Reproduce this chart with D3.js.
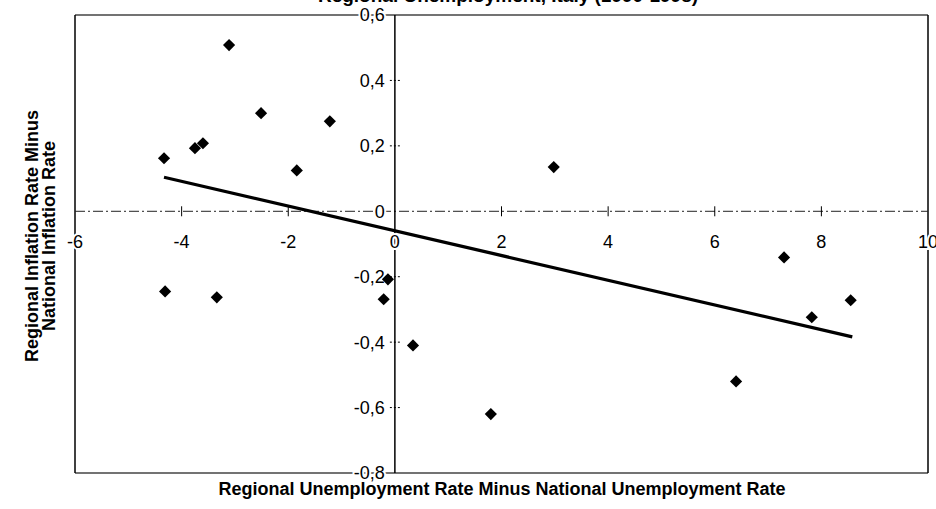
<!DOCTYPE html>
<html>
<head>
<meta charset="utf-8">
<script src="https://cdn.jsdelivr.net/npm/d3@7/dist/d3.min.js"></script>
<style>
  html, body { margin: 0; padding: 0; background: #fff; }
  svg { display: block; }
  text { font-family: "Liberation Sans", Arial, Helvetica, sans-serif; fill: #000; }
</style>
</head>
<body>
<svg id="chart" width="936" height="509"></svg>
<script>
// ---- data ----
const unemploymentDiff = [-4.33, -3.75, -3.60, -3.11, -2.51, -1.22, -1.84, -4.31, -3.34, -0.13, -0.21, 0.34, 1.80, 2.98, 6.40, 7.30, 7.82, 8.55];
const inflationDiff    = [ 0.162, 0.193, 0.208, 0.508, 0.300, 0.275, 0.125, -0.245, -0.263, -0.208, -0.269, -0.410, -0.620, 0.135, -0.520, -0.141, -0.324, -0.272];
const trendX = [-4.33, 8.58];
const trendY = [0.104, -0.384];
const xTicks = [-6, -4, -2, 0, 2, 4, 6, 8, 10];
const xTickLabels = ["-6", "-4", "-2", "0", "2", "4", "6", "8", "10"];
const yTicks = [0.6, 0.4, 0.2, 0, -0.2, -0.4, -0.6, -0.8];
const yTickLabels = ["0,6", "0,4", "0,2", "0", "-0,2", "-0,4", "-0,6", "-0,8"];
const titleText = "Regional Unemployment, Italy (1990-1998)";
const xTitle = "Regional Unemployment Rate Minus National Unemployment Rate";
const yTitleLines = ["Regional Inflation Rate Minus", "National Inflation Rate"];

const svg = d3.select("#chart");
const x = d3.scaleLinear().domain([-6, 10]).range([75, 928]);
const y = d3.scaleLinear().domain([-0.8, 0.6]).range([473, 15]);

const x0 = x(0), y0 = y(0);

// frame
svg.append("line").attr("x1", x(-6)).attr("x2", x(10)).attr("y1", y(0.6)).attr("y2", y(0.6))
  .attr("stroke", "#444").attr("stroke-width", 1.3);
svg.append("line").attr("x1", x(-6)).attr("x2", x(10)).attr("y1", y(-0.8)).attr("y2", y(-0.8))
  .attr("stroke", "#444").attr("stroke-width", 1.3);
svg.append("line").attr("x1", x(-6)).attr("x2", x(-6)).attr("y1", y(0.6)).attr("y2", y(-0.8))
  .attr("stroke", "#000").attr("stroke-width", 1.5);
svg.append("line").attr("x1", x(10)).attr("x2", x(10)).attr("y1", y(0.6)).attr("y2", y(-0.8))
  .attr("stroke", "#000").attr("stroke-width", 1.5);

// x axis (dash-dot line at y = 0)
svg.append("line").attr("x1", x(-6)).attr("x2", x(10)).attr("y1", y0).attr("y2", y0)
  .attr("stroke", "#222").attr("stroke-width", 1).attr("stroke-dasharray", "10,3,2,3");
// y axis
svg.append("line").attr("x1", x0).attr("x2", x0).attr("y1", y(0.6)).attr("y2", y(-0.8))
  .attr("stroke", "#000").attr("stroke-width", 1.5);

// x tick marks
svg.append("g").selectAll("line").data(xTicks.filter(d => d > -6 && d < 10 && d !== 0)).join("line")
  .attr("x1", d => x(d)).attr("x2", d => x(d)).attr("y1", y0 - 5).attr("y2", y0 + 5)
  .attr("stroke", "#000").attr("stroke-width", 1);
// y tick marks
svg.append("g").selectAll("line").data(yTicks.filter(d => d !== 0.6 && d !== -0.8 && d !== 0)).join("line")
  .attr("x1", x0 - 5).attr("x2", x0 + 7).attr("y1", d => y(d)).attr("y2", d => y(d))
  .attr("stroke", "#000").attr("stroke-width", 1).attr("stroke-dasharray", "2,2");

// tick labels with white halo
svg.append("g").selectAll("text").data(xTicks).join("text")
  .attr("x", d => x(d)).attr("y", y0 + 37)
  .attr("text-anchor", "middle").attr("font-size", 18)
  .attr("stroke", "#fff").attr("stroke-width", 4).attr("paint-order", "stroke")
  .text((d, i) => xTickLabels[i]);
svg.append("g").selectAll("text").data(yTicks).join("text")
  .attr("x", x0 - 10).attr("y", d => y(d)).attr("dy", "0.36em")
  .attr("text-anchor", "end").attr("font-size", 18)
  .attr("stroke", "#fff").attr("stroke-width", 4).attr("paint-order", "stroke")
  .text((d, i) => yTickLabels[i]);

// title (cut off at top)
svg.append("text").attr("x", 508).attr("y", 2).attr("text-anchor", "middle")
  .attr("font-size", 19).attr("font-weight", "bold").text(titleText);

// axis titles
svg.append("text").attr("x", 502).attr("y", 495).attr("text-anchor", "middle")
  .attr("font-size", 18).attr("font-weight", "bold").text(xTitle);
yTitleLines.forEach((t, i) => {
  svg.append("text").attr("transform", `translate(${38 + i * 17},236) rotate(-90)`)
    .attr("text-anchor", "middle").attr("font-size", 18).attr("font-weight", "bold").text(t);
});

// regression line
svg.append("line")
  .attr("x1", x(trendX[0])).attr("y1", y(trendY[0]))
  .attr("x2", x(trendX[1])).attr("y2", y(trendY[1]))
  .attr("stroke", "#000").attr("stroke-width", 3.2);

// points
const diamond = d3.symbol().type(d3.symbolSquare).size(74);
svg.append("g").selectAll("path").data(unemploymentDiff).join("path")
  .attr("d", diamond)
  .attr("transform", (d, i) => `translate(${x(d)},${y(inflationDiff[i])}) rotate(45)`)
  .attr("fill", "#000");
</script>
</body>
</html>
